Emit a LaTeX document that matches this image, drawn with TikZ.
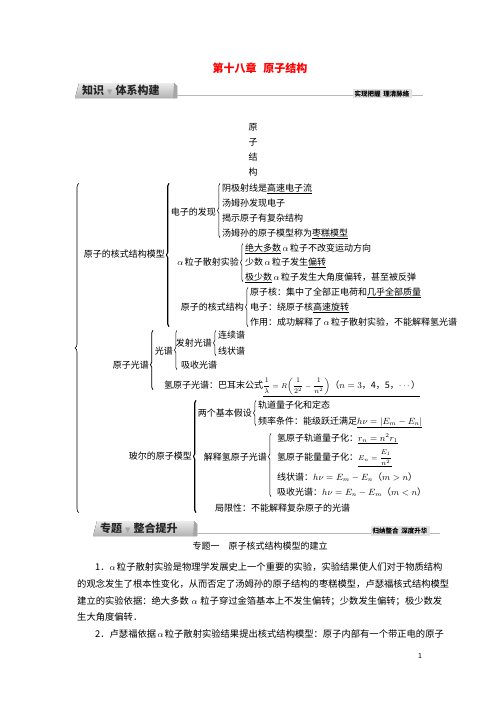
\documentclass[tikz,border=0pt]{standalone}
\usepackage{fontspec}
\usepackage{amsmath}
\setmainfont{Noto Sans CJK SC}
\newfontfamily\symfont{DejaVu Sans}
\XeTeXlinebreaklocale "zh"
\XeTeXlinebreakskip=0pt plus 1pt
\usetikzlibrary{calc,positioning,decorations.pathreplacing}
\tikzstyle{grp}=[anchor=east, inner xsep=4pt, inner ysep=0pt,
    text height=7.5pt, text depth=1.5pt, font=\fontsize{9}{11}\selectfont]
\tikzstyle{itm}=[anchor=west, inner xsep=1pt, inner ysep=0pt,
    text height=7.5pt, text depth=1.5pt, font=\fontsize{9}{11}\selectfont]
\tikzstyle{brc}=[decorate, decoration={brace, amplitude=2.5pt}, line width=0.5pt]
\tikzstyle{bbrc}=[brc, line width=1.1pt]
\tikzstyle{txtline}=[anchor=west, inner sep=0pt, font=\fontsize{9.3}{11}\selectfont]
\tikzstyle{tabbox}=[top color=gray!15, bottom color=gray!60]
\tikzstyle{tabtxt}=[anchor=west, inner sep=0pt, text=black!85,
    font=\fontsize{11}{12}\selectfont\bfseries]
\tikzstyle{tagbox}=[fill=gray!22, inner xsep=2pt, inner ysep=1.5pt,
    font=\fontsize{6.5}{7}\selectfont\bfseries]
\newcommand{\uln}[1]{\underline{#1}}
\newcommand{\tri}{{\symfont\fontsize{7}{8}\selectfont\color{gray!70}▼}}
\newcommand{\sm}[1]{{\fontsize{7}{9}\selectfont#1}}
\def\parw{365pt}
\def\indw{347pt}

\begin{document}
\begin{tikzpicture}[x=1pt,y=-1pt]
    \useasboundingbox (0,0) rectangle (496,702);
    \node (title) [font=\fontsize{11}{13}\selectfont\bfseries, text=red] at (260,68)
        {第十八章\hspace{7pt}原子结构};
    \fill[tabbox] (75,98) -- (79,83) -- (174,83) -- (177,86) -- (177,98) -- cycle;
    \fill[gray!70] (174,83) -- (177,86) -- (177,98) -- (173,98) -- cycle;
    \draw[gray!55, line width=0.8pt] (177,95) -- (423,95);
    \node (hk1) [tabtxt] at (82,90.5) {知识\hspace{3pt}\tri\hspace{3pt}体系构建};
    \node (hl1) [tagbox] at (382,93.5) {实现把握\hspace{3pt}理清脉络};
    \node (yz) [align=center, font=\fontsize{9}{15}\selectfont] at (253,149.5)
        {原\\子\\结\\构};
    \coordinate (k0) at (79,348);
    \node (hs) [grp] at (169,254) {原子的核式结构模型};
    \path (hs.east)+(51,-42) node (ed) [grp] {电子的发现};
    \path (hs.east)+(74,8) node (as) [grp] {$\alpha$\,粒子散射实验};
    \path (hs.east)+(79,53) node (hj) [grp] {原子的核式结构};
    \path (ed.east)+(1,-24) node (ed1) [itm] {阴极射线是\uln{高速电子流}};
    \path (ed.east)+(1,-9) node (ed2) [itm] {汤姆孙发现电子};
    \path (ed.east)+(1,6) node (ed3) [itm] {揭示原子有复杂结构};
    \path (ed.east)+(1,21) node (ed4) [itm] {汤姆孙的原子模型称为\uln{枣糕模型}};
    \path (as.east)+(1,-14) node (as1) [itm] {\uln{绝大多数}\,$\alpha$\,粒子不改变运动方向};
    \path (as.east)+(1,0) node (as2) [itm] {少数\,$\alpha$\,粒子发生\uln{偏转}};
    \path (as.east)+(1,15) node (as3) [itm] {\uln{极少数}\,$\alpha$\,粒子发生大角度偏转，甚至被反弹};
    \path (hj.east)+(1,-15) node (hj1) [itm] {原子核：集中了全部正电荷和\uln{几乎全部质量}};
    \path (hj.east)+(1,0) node (hj2) [itm] {电子：绕原子核\uln{高速旋转}};
    \path (hj.east)+(1,15) node (hj3) [itm] {作用：成功解释了\,$\alpha$\,粒子散射实验，不能解释氢光谱};
    \node (gp) [grp] at (153,365) {原子光谱};
    \path (gp.east)+(24,-14) node (gs) [grp] {光谱};
    \path (gs.east)+(39,-8) node (fs) [grp] {发射光谱};
    \path (fs.east)+(1,-8) node (lx1) [itm] {连续谱};
    \path (fs.east)+(1,8) node (lx2) [itm] {线状谱};
    \path (gs.east)+(3,14) node (xs) [itm] {吸收光谱};
    \path (gp.east)+(10,20) node (qp) [itm] {氢原子光谱：巴耳末公式\uln{\sm{$\dfrac{1}{\lambda}=R\biggl(\dfrac{1}{2^{2}}-\dfrac{1}{n^{2}}\biggr)$}（$n=3$，4，5，$\cdots$）}};
    \node (be) [grp] at (196,456) {玻尔的原子模型};
    \path (be.east)+(60,-43) node (jd) [grp] {两个基本假设};
    \path (be.east)+(75,1) node (jx) [grp] {解释氢原子光谱};
    \path (jd.east)+(1,-8) node (jd1) [itm] {轨道量子化和定态};
    \path (jd.east)+(1,8) node (jd2) [itm] {频率条件：能级跃迁满足\uln{$h\nu=|E_m-E_n|$}};
    \path (jx.east)+(5,-19) node (jx1) [itm] {氢原子轨道量子化：\uln{$r_n=n^2r_1$}};
    \path (jx.east)+(5,0) node (jx2) [itm] {氢原子能量量子化：\uln{\sm{$E_n=\dfrac{E_1}{n^2}$}}};
    \path (jx.east)+(5,20) node (jx3) [itm] {线状谱：$h\nu=E_m-E_n$（$m>n$）};
    \path (jx.east)+(5,35) node (jx4) [itm] {吸收光谱：$h\nu=E_n-E_m$（$m<n$）};
    \path (be.east)+(18,52) node (jl) [itm] {局限性：不能解释复杂原子的光谱};
    \draw [brc, line width=0.6pt, decoration={amplitude=4pt}] (k0 |- jl.south) -- (k0 |- ed1.north);
    \draw [bbrc] (hs.east |- hj3.south) -- (hs.east |- ed1.north);
    \draw [brc] (ed.east |- ed4.south) -- (ed.east |- ed1.north);
    \draw [brc] (as.east |- as3.south) -- (as.east |- as1.north);
    \draw [brc] (hj.east |- hj3.south) -- (hj.east |- hj1.north);
    \draw [bbrc, line width=0.8pt, decoration={aspect=0.42}] (gp.east |- qp.south) -- (gp.east |- lx1.north);
    \draw [brc] (gs.east |- xs.south) -- (gs.east |- lx1.north);
    \draw [brc] (fs.east |- lx2.south) -- (fs.east |- lx1.north);
    \draw [bbrc] (be.east |- jl.south) -- (be.east |- jd1.north);
    \draw [brc] (jd.east |- jd2.south) -- (jd.east |- jd1.north);
    \draw [brc, decoration={aspect=0.63}] (jx.east |- jx4.south) -- (jx.east |- jx1.north);
    \fill[tabbox] (93,536) -- (97,521) -- (194,521) -- (197,524) -- (197,536) -- cycle;
    \fill[gray!70] (194,521) -- (197,524) -- (197,536) -- (193,536) -- cycle;
    \draw[gray!55, line width=0.8pt] (197,533) -- (440,533);
    \node (hk2) [tabtxt] at (100,528.5) {专题\hspace{3pt}\tri\hspace{3pt}整合提升};
    \node (hl2) [tagbox] at (400,531) {归纳整合\hspace{3pt}深度升华};
    \node (zt) [font=\fontsize{9}{11}\selectfont] at (260,546) {专题一\hspace{9pt}原子核式结构模型的建立};
    \node (p1) [txtline] at (95,567) {\makebox[\indw][s]{1．$\alpha$ 粒子散射实验是物理学发展史上一个重要的实验，实验结果使人们对于物质结构}};
    \node (p2) [txtline] at (77,584) {\makebox[\parw][s]{的观念发生了根本性变化，从而否定了汤姆孙的原子结构的枣糕模型，卢瑟福核式结构模型}};
    \node (p3) [txtline] at (77,601) {\makebox[\parw][s]{建立的实验依据：绝大多数 $\alpha$ 粒子穿过金箔基本上不发生偏转；少数发生偏转；极少数发}};
    \node (p4) [txtline] at (77,617) {生大角度偏转．};
    \node (p5) [txtline] at (95,634) {\makebox[\indw][s]{2．卢瑟福依据 $\alpha$ 粒子散射实验结果提出核式结构模型：原子内部有一个带正电的原子}};
    \node (pg) [font=\fontsize{7}{8}\selectfont] at (420,656) {1};
\end{tikzpicture}
\end{document}
